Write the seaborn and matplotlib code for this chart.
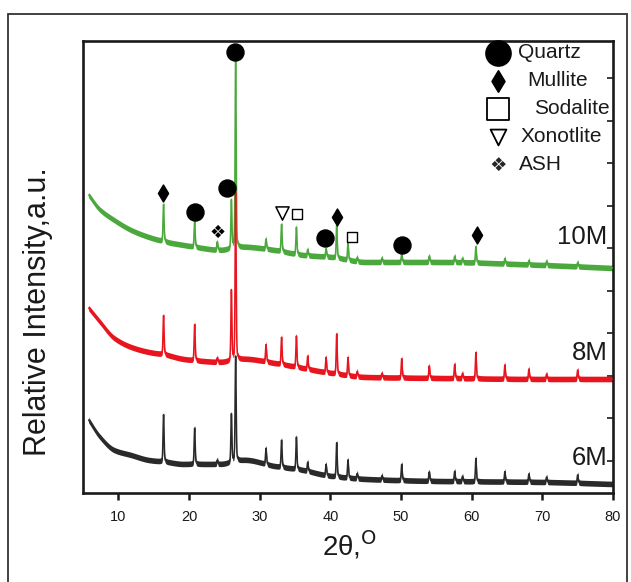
import numpy as np
import pandas as pd
import matplotlib
matplotlib.use("Agg")
import matplotlib.pyplot as plt
import seaborn as sns
from matplotlib.patches import Rectangle

sns.set_theme(style="white")
plt.rcParams["font.family"] = ["Liberation Sans", "DejaVu Sans"]

# ---- data -------------------------------------------------------------
samples = ["6M", "8M", "10M"]

# reflection positions (2-theta, degrees)
peak_2theta = [16.4, 20.8, 24.0, 26.0, 26.6, 30.9, 33.1, 35.2, 36.8, 39.4,
               40.9, 42.5, 43.8, 47.3, 50.1, 54.0, 57.6, 58.7, 60.6, 64.7,
               68.1, 70.6, 75.0]
# peak heights above background (a.u.)
height_6M = [47, 36, 4, 48, 105, 16, 27, 32, 9, 11, 34, 18, 5, 4, 16, 9, 10, 5, 23, 10, 8, 5, 8]
height_8M = [39, 36, 4, 70, 167, 17, 27, 31, 13, 15, 40, 18, 5, 4, 19, 12, 14, 5, 26, 14, 10, 5, 9]
height_10M = [37, 26, 8, 48, 198, 10, 27, 27, 6, 8, 33, 17, 4, 4, 8, 6, 6, 4, 16, 5, 4, 4, 4]

# background level (a.u., stacked offsets included)
bg_2theta = [5.8, 7.3, 9.4, 11.8, 14.3, 16.8, 19.2, 21.8, 24.4, 28.0, 32.0,
             36.0, 40.0, 45.0, 55.0, 70.0, 80.0]
bg_6M = [73, 57, 43, 38, 33, 31, 29, 29, 29, 33, 27, 23, 17, 14, 12, 11, 9]
bg_8M = [185, 172, 155, 146, 141, 138, 134, 132, 131, 134, 130, 125, 120, 116, 115, 114, 114]
bg_10M = [298, 284, 273, 263, 256, 251, 248, 245, 243, 246, 243, 238, 236, 231, 231, 228, 225]

# phase markers: (2-theta, intensity)
quartz_x = [26.5, 20.8, 25.4, 39.2, 50.1]
quartz_y = [441, 281, 305, 255, 248]
mullite_x = [16.3, 40.9, 60.7]
mullite_y = [300, 276, 258]
sodalite_x = [35.3, 43.0]
sodalite_y = [279, 256]
xonotlite_x = [33.1]
xonotlite_y = [280]
ash_x = [24.0]
ash_y = [260]

phase_names = ["Quartz", "Mullite", "Sodalite", "Xonotlite", "ASH"]
x_ticks = [10, 20, 30, 40, 50, 60, 70, 80]

# ---- build traces -----------------------------------------------------
grid = np.arange(5.8, 80.0, 0.02)


def smooth_background(xk, yk, x):
    # monotone piecewise-cubic (Fritsch-Carlson) through the background levels
    xk = np.asarray(xk, float)
    yk = np.asarray(yk, float)
    h = np.diff(xk)
    d = np.diff(yk) / h
    m = np.zeros_like(yk)
    m[0], m[-1] = d[0], d[-1]
    for i in range(1, len(yk) - 1):
        if d[i - 1] * d[i] > 0:
            w1, w2 = 2 * h[i] + h[i - 1], h[i] + 2 * h[i - 1]
            m[i] = (w1 + w2) / (w1 / d[i - 1] + w2 / d[i])
    idx = np.clip(np.searchsorted(xk, x) - 1, 0, len(h) - 1)
    t = (x - xk[idx]) / h[idx]
    h00 = 2 * t ** 3 - 3 * t ** 2 + 1
    h10 = t ** 3 - 2 * t ** 2 + t
    h01 = -2 * t ** 3 + 3 * t ** 2
    h11 = t ** 3 - t ** 2
    return (h00 * yk[idx] + h10 * h[idx] * m[idx]
            + h01 * yk[idx + 1] + h11 * h[idx] * m[idx + 1])


def profile(bg, heights):
    y = smooth_background(bg_2theta, bg, grid)
    for p, hgt in zip(peak_2theta, heights):
        gauss = np.exp(-0.5 * ((grid - p) / 0.07) ** 2)
        lor = 0.1 ** 2 / ((grid - p) ** 2 + 0.1 ** 2)
        y = y + hgt * (0.75 * gauss + 0.25 * lor)
    return y


traces = {
    "6M": profile(bg_6M, height_6M),
    "8M": profile(bg_8M, height_8M),
    "10M": profile(bg_10M, height_10M),
}
df = pd.concat(
    [pd.DataFrame({"two_theta": grid, "intensity": traces[s], "sample": s}) for s in samples],
    ignore_index=True,
)
colors = {"6M": "#2a2a2a", "8M": "#e8141e", "10M": "#4aa83c"}
draw_order = ["10M", "6M", "8M"]

# ---- figure -------------------------------------------------------------
W, H = 631, 582
fig = plt.figure(figsize=(W / 100, H / 100), dpi=100)
ax = fig.add_axes([83 / W, 1 - 493 / H, (613 - 83) / W, (493 - 41) / H])

for k, s in enumerate(draw_order):
    ax.fill_between(grid, traces[s] - 2.8, traces[s] + 2.8, color=colors[s], lw=0,
                    zorder=2 + 0.1 * k)
sns.lineplot(data=df, x="two_theta", y="intensity", hue="sample", hue_order=draw_order,
             palette=colors, lw=1.1, ax=ax, legend=False, zorder=3, sort=False,
             estimator=None)

# phase markers on the 10M pattern
ax.scatter(quartz_x, quartz_y, s=150, marker="o", color="black", zorder=5)
ax.scatter(mullite_x, mullite_y, s=75, marker="d", color="black", zorder=5)
ax.scatter(sodalite_x, sodalite_y, s=60, marker="s", facecolor="white",
           edgecolor="black", lw=1.0, zorder=5)
ax.scatter(xonotlite_x, xonotlite_y, s=90, marker="v", facecolor="white",
           edgecolor="black", lw=1.1, zorder=5)
for xa, ya in zip(ash_x, ash_y):
    ax.text(xa, ya, "\u2756", family="DejaVu Sans", fontsize=13, ha="center",
            va="center", color="black", zorder=5)

# sample labels
for s, yl in zip(samples, [35, 140, 256]):
    ax.text(79.2, yl, s, fontsize=18.5, ha="right", va="center", color="#1a1a1a")


# phase key
def axfrac(px, py):
    return (px - 83) / 530, (493 - py) / 452


key_y = [53, 81, 109, 137, 165]
key_text_x = [518, 527, 534, 521, 519]
key_marks = [("o", 320, "black", "black"), ("d", 115, "black", "black"),
             ("s", 250, "white", "black"), ("v", 130, "white", "black")]
for i, name in enumerate(phase_names):
    mx, my = axfrac(498, key_y[i])
    if i < 4:
        m, sz, fc, ec = key_marks[i]
        ax.scatter([mx], [my], s=sz, marker=m, facecolor=fc, edgecolor=ec,
                   lw=1.3, transform=ax.transAxes, clip_on=False, zorder=6)
    else:
        ax.text(mx, my, "\u2756", family="DejaVu Sans", fontsize=14, ha="center",
                va="center", transform=ax.transAxes, zorder=6)
    tx, ty = axfrac(key_text_x[i], key_y[i])
    ax.text(tx, ty, name, fontsize=15, ha="left", va="center",
            transform=ax.transAxes, color="#1a1a1a")

# axes styling
ax.set_xlim(5, 80)
ax.set_ylim(0, 452)
ax.set_xticks(x_ticks)
ax.set_xticklabels([str(t) for t in x_ticks], fontsize=10.5, color="#1a1a1a")
ax.tick_params(axis="x", direction="out", length=5, width=1.8, color="#1a1a1a",
               bottom=True, pad=7)
ax.yaxis.tick_right()
ax.set_yticks(np.arange(32.5, 452, 42.5))
ax.set_yticklabels([])
ax.tick_params(axis="y", direction="in", length=4, width=1.2, color="#1a1a1a", right=True)
for sp in ax.spines.values():
    sp.set_linewidth(1.9)
    sp.set_color("#1a1a1a")
ax.set_xlabel("")
ax.set_ylabel("")

fig.text(38 / W, 1 - 312 / H, "Relative Intensity,a.u.", rotation=90, fontsize=22,
         ha="center", va="center", color="#1a1a1a")
fig.text(350 / W, 1 - 545 / H, "2\u03b8,$^{\\mathrm{O}}$", fontsize=20,
         ha="center", va="center", color="#1a1a1a")

# outer border of the panel
fig.add_artist(Rectangle((8 / W, -0.05), (627 - 8) / W, 1.05 - 14 / H,
                         transform=fig.transFigure, fill=False, lw=1.3,
                         edgecolor="#333333"))

fig.savefig("out.png", dpi=100)
